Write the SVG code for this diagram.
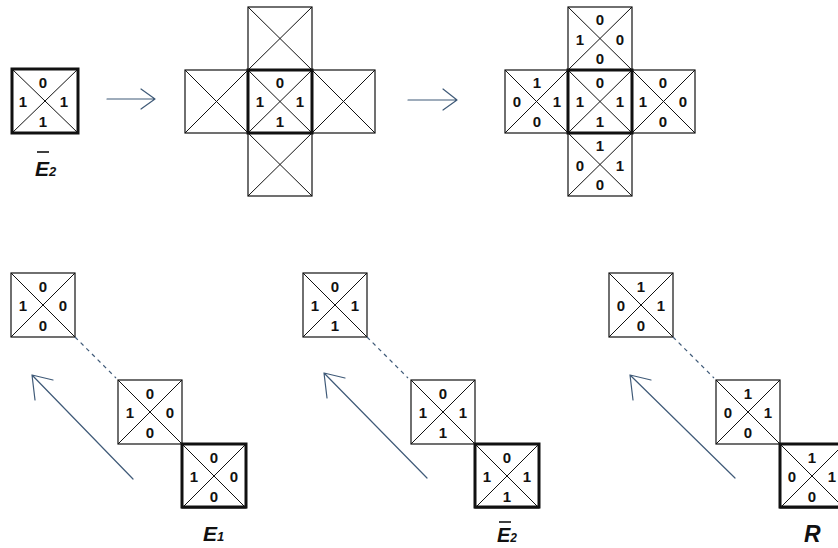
<svg xmlns="http://www.w3.org/2000/svg" width="838" height="548" viewBox="0 0 838 548">
<style>
.box{fill:#fff;stroke:#111;stroke-width:1.2}
.thick{fill:none;stroke:#111;stroke-width:3}
.diag{fill:none;stroke:#111;stroke-width:1}
.d{font-family:"Liberation Sans",Arial,sans-serif;font-weight:bold;font-size:15px;fill:#111;text-anchor:middle}
.lab{font-family:"Liberation Sans",Arial,sans-serif;font-weight:bold;font-style:italic;fill:#111}
.arr{fill:none;stroke:#3f5a78;stroke-width:1.2;stroke-linecap:round;stroke-linejoin:round}
.dash{fill:none;stroke:#3f5a78;stroke-width:1.2;stroke-dasharray:4 4}
.bar{stroke:#111;stroke-width:1.6}
</style>
<defs>
<g id="cell"><rect class="box" x="0" y="0" width="64" height="64"/><path class="diag" d="M0,0L64,64M64,0L0,64"/></g>
</defs>

<!-- top-left tile -->
<g id="tile-e2">
<rect class="box" x="12" y="69" width="66" height="64"/>
<path class="diag" d="M12,69L78,133M78,69L12,133"/>
<rect class="thick" x="12" y="69" width="66" height="64"/>
<text class="d" x="43" y="88">0</text><text class="d" x="23" y="107">1</text><text class="d" x="64" y="107">1</text><text class="d" x="43" y="127">1</text>
</g>
<g id="label-e2-top">
<line class="bar" x1="37" y1="152" x2="49" y2="152"/>
<text class="lab" x="35" y="176" font-size="21">E<tspan font-size="13">2</tspan></text>
</g>

<!-- middle cross -->
<g id="cross1-top"><rect class="box" x="248" y="7" width="64" height="63"/><path class="diag" d="M248,7L312,70M312,7L248,70"/></g>
<g id="cross1-left"><rect class="box" x="185" y="70" width="63" height="63"/><path class="diag" d="M185,70L248,133M248,70L185,133"/></g>
<g id="cross1-right"><rect class="box" x="312" y="70" width="63" height="63"/><path class="diag" d="M312,70L375,133M375,70L312,133"/></g>
<g id="cross1-bottom"><rect class="box" x="248" y="133" width="64" height="63"/><path class="diag" d="M248,133L312,196M312,133L248,196"/></g>
<g id="cross1-center">
<rect class="box" x="248" y="70" width="64" height="63"/><path class="diag" d="M248,70L312,133M312,70L248,133"/>
<rect class="thick" x="248" y="70" width="64" height="63"/>
<text class="d" x="280" y="88">0</text><text class="d" x="260" y="107">1</text><text class="d" x="300" y="107">1</text><text class="d" x="280" y="127">1</text>
</g>

<!-- right cross -->
<g id="cross2-top"><rect class="box" x="568" y="7" width="64" height="63"/><path class="diag" d="M568,7L632,70M632,7L568,70"/>
<text class="d" x="600" y="25">0</text><text class="d" x="580" y="45">1</text><text class="d" x="620" y="45">0</text><text class="d" x="600" y="64">0</text></g>
<g id="cross2-left"><rect class="box" x="505" y="70" width="63" height="63"/><path class="diag" d="M505,70L568,133M568,70L505,133"/>
<text class="d" x="537" y="88">1</text><text class="d" x="517" y="107">0</text><text class="d" x="557" y="107">1</text><text class="d" x="537" y="127">0</text></g>
<g id="cross2-right"><rect class="box" x="632" y="70" width="63" height="63"/><path class="diag" d="M632,70L695,133M695,70L632,133"/>
<text class="d" x="663" y="88">0</text><text class="d" x="643" y="107">1</text><text class="d" x="683" y="107">0</text><text class="d" x="663" y="127">0</text></g>
<g id="cross2-bottom"><rect class="box" x="568" y="133" width="64" height="63"/><path class="diag" d="M568,133L632,196M632,133L568,196"/>
<text class="d" x="600" y="151">1</text><text class="d" x="580" y="171">0</text><text class="d" x="620" y="171">1</text><text class="d" x="600" y="190">0</text></g>
<g id="cross2-center">
<rect class="box" x="568" y="70" width="64" height="63"/><path class="diag" d="M568,70L632,133M632,70L568,133"/>
<rect class="thick" x="568" y="70" width="64" height="63"/>
<text class="d" x="600" y="88">0</text><text class="d" x="580" y="107">1</text><text class="d" x="620" y="107">1</text><text class="d" x="600" y="127">1</text>
</g>

<!-- bottom group 1 -->
<g id="g1-top" transform="translate(11,273)"><use href="#cell"/>
<text class="d" x="32" y="19">0</text><text class="d" x="12" y="38">1</text><text class="d" x="52" y="38">0</text><text class="d" x="32" y="58">0</text></g>
<g id="g1-mid" transform="translate(118,380)"><use href="#cell"/>
<text class="d" x="32" y="19">0</text><text class="d" x="12" y="38">1</text><text class="d" x="52" y="38">0</text><text class="d" x="32" y="58">0</text></g>
<g id="g1-base" transform="translate(182,444)"><use href="#cell"/><rect class="thick" x="0" y="0" width="64" height="63"/>
<text class="d" x="32" y="19">0</text><text class="d" x="12" y="38">1</text><text class="d" x="52" y="38">0</text><text class="d" x="32" y="58">0</text></g>
<g id="label-e1"><text class="lab" x="203" y="541" font-size="21">E<tspan font-size="13">1</tspan></text></g>

<!-- bottom group 2 -->
<g id="g2-top" transform="translate(303,273)"><use href="#cell"/>
<text class="d" x="32" y="19">0</text><text class="d" x="12" y="38">1</text><text class="d" x="52" y="38">1</text><text class="d" x="32" y="58">1</text></g>
<g id="g2-mid" transform="translate(411,380)"><use href="#cell"/>
<text class="d" x="32" y="19">0</text><text class="d" x="12" y="38">1</text><text class="d" x="52" y="38">1</text><text class="d" x="32" y="58">1</text></g>
<g id="g2-base" transform="translate(475,444)"><use href="#cell"/><rect class="thick" x="0" y="0" width="64" height="63"/>
<text class="d" x="32" y="19">0</text><text class="d" x="12" y="38">1</text><text class="d" x="52" y="38">1</text><text class="d" x="32" y="58">1</text></g>
<g id="label-e2-bottom">
<line class="bar" x1="499" y1="522" x2="511" y2="522"/>
<text class="lab" x="497" y="542" font-size="20">E<tspan font-size="12">2</tspan></text>
</g>

<!-- bottom group 3 -->
<g id="g3-top" transform="translate(609,273)"><use href="#cell"/>
<text class="d" x="32" y="19">1</text><text class="d" x="12" y="38">0</text><text class="d" x="52" y="38">1</text><text class="d" x="32" y="58">0</text></g>
<g id="g3-mid" transform="translate(716,380)"><use href="#cell"/>
<text class="d" x="32" y="19">1</text><text class="d" x="12" y="38">0</text><text class="d" x="52" y="38">1</text><text class="d" x="32" y="58">0</text></g>
<g id="g3-base" transform="translate(780,444)"><use href="#cell"/><rect class="thick" x="0" y="0" width="64" height="63"/>
<text class="d" x="32" y="19">1</text><text class="d" x="12" y="38">0</text><text class="d" x="52" y="38">1</text><text class="d" x="32" y="58">0</text></g>
<g id="label-r"><text class="lab" x="804" y="542" font-size="23">R</text></g>

<!-- connectors -->
<g id="connectors">
<path class="arr" d="M107,99H155M141,89L155,99L141,109"/>
<path class="arr" d="M408,100H457M443,89L457,100L443,110"/>
<path class="dash" d="M75,337L116,378"/>
<path class="dash" d="M367,337L408,378"/>
<path class="dash" d="M673,337L714,378"/>
<path class="arr" d="M133,479L32,375M53,380L32,375L35,400"/>
<path class="arr" d="M427,478L324,373M345,378L324,373L327,398"/>
<path class="arr" d="M735,478L630,375M651,380L630,375L633,400"/>
</g>
</svg>
